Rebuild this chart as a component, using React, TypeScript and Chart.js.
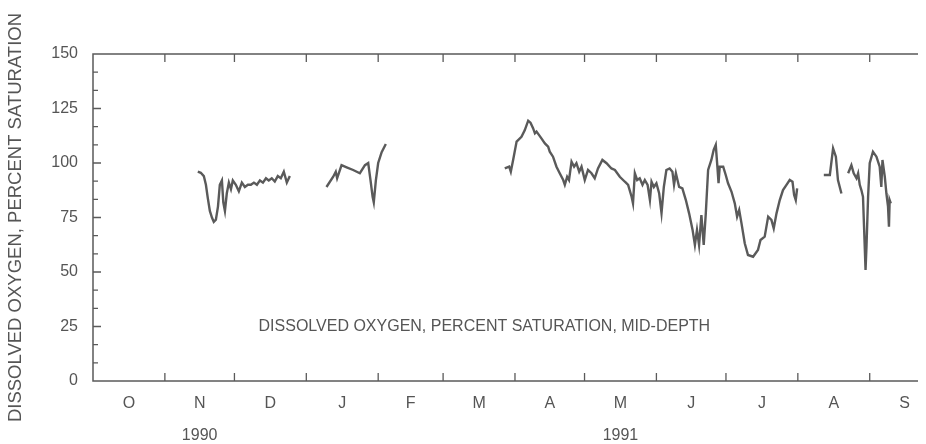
import { useEffect, useRef } from 'react';
import { Chart, registerables } from 'chart.js';

Chart.register(...registerables);

// Days since 1 Oct 1990 (water year 1991); null value = data gap
const days: number[] = [
  // Nov-Dec 1990
  45.2, 46.5, 47.8, 48.7, 49.5, 50.4, 51.3, 52.1, 53, 53.9, 54.7, 55.6, 56.2, 56.9, 57.7, 58.6, 59.5, 60.3,
  61.6, 62.9, 64.2, 65.5, 66.8, 68.1, 69.4, 70.7, 72, 73.3, 74.6, 75.8, 77.1, 78.4, 79.7, 81, 82.3, 83.6, 84.9,
  88,
  // Jan 1991
  100.7, 103.6, 104.7, 105.3, 107.2, 109.4, 112.2, 115.1, 117.3, 118.7, 119.7, 120.6, 121.1, 122.0, 123.0,
  124.5, 126.3,
  150,
  // late Mar - early Aug 1991
  177.6, 179.5, 180.2, 181.2, 182.7, 184.8, 186.2, 187.7, 188.7, 189.8, 190.6, 191.3, 192.4, 193.4, 194.9,
  196.3, 197.0, 198.4, 199.9, 201.3, 202.8, 203.5, 204.5, 205.3, 206.4, 207.5, 208.5, 209.7, 210.7, 212.1,
  213.5, 215.0, 216.4, 217.8, 219.7, 221.5, 223.6, 225.1, 227.2, 229.4, 230.8, 232.3, 232.9, 233.7, 234.7,
  235.8, 237.0, 238.0, 239.2, 240.2, 240.9, 241.9, 243.0, 244.2, 245.2, 246.2, 247.3, 248.7, 249.9, 250.6,
  251.4, 252.8, 254.2, 255.7, 257.1, 258.6, 259.6, 260.5, 261.4, 262.4, 263.4, 264.3, 265.3, 266.7, 267.7,
  268.6, 269.3, 269.8, 270.3, 271.8, 272.9, 273.9, 275.4, 276.8, 277.8, 278.7, 279.7, 281.1, 282.5, 284.7,
  286.8, 287.9, 289.7, 291.2, 292.6, 293.6, 294.8, 296.2, 297.6, 299.1, 300.5, 301.7, 302.4, 303.1, 303.7,
  310,
  // mid Aug 1991
  315.2, 317.8, 319.2, 320.4, 321.3, 322.8,
  324,
  // late Aug - Sep 1991
  325.7, 327.1, 328.1, 329.3, 330.0, 330.7, 331.4, 332.1, 332.6, 333.2, 333.6, 334.3, 335.0, 336.4, 337.9,
  339.3, 340.0, 340.5, 341.5, 342.2, 342.9, 343.3, 343.6, 344.1,
];

const doSaturation: (number | null)[] = [
  96, 95.5, 94, 90, 84, 78, 75, 73, 74, 80, 90, 92, 82, 78, 86, 91, 88, 92,
  90, 87, 91, 89, 90, 90, 91, 90, 92, 91, 93, 92, 93, 91.5, 94, 93, 96, 91, 94,
  null,
  89, 93.7, 96, 93, 99, 98, 96.8, 95.3, 99, 100, 92, 84.5, 82, 92, 100,
  105, 108.7,
  null,
  97.5, 98.3, 96, 101.4, 109.8, 112, 115, 119.4, 118.5, 116, 113.6, 114.4, 112.8, 111.3, 109,
  107.5, 105.2, 102.9, 98.3, 95.3, 92.2, 90, 93.7, 92.2, 100.6, 98.3, 99.9, 96, 98.3, 92.2,
  96.8, 95.3, 93, 97.5, 101.4, 99.9, 97.5, 96.8, 93.7, 91.4, 90, 84.5, 81.5, 95.3, 92.2,
  93, 90, 92.2, 90, 83, 91.4, 89, 90.7, 86, 77, 89, 96.8, 97.5, 96, 90,
  95.3, 89, 88.4, 83, 76.9, 69.3, 62.4, 69.3, 62.4, 76.1, 62.4, 76.9, 96.8, 101.4, 106,
  108.3, 98.3, 90.7, 98.3, 98.3, 94.5, 90.7, 86.8, 81.5, 75.4, 78.4, 72.3, 63.2, 57.8, 57,
  60.1, 64.7, 66.2, 75.4, 73.9, 70, 76.9, 83, 87.6, 90, 92.2, 91.4, 85.3, 83, 88.4,
  null,
  94.5, 94.5, 106.7, 102.9, 92.2, 86,
  null,
  95.3, 99, 95.3, 93, 95.3, 90, 87.6, 84.5, 69.3, 50.9, 61.6, 84.5, 99.9, 105.2, 102.9,
  98.3, 89, 101.4, 93.7, 86, 80, 70.8, 83, 81.5,
];

const monthStarts: number[] = [0, 31, 61, 92, 123, 151, 182, 212, 243, 273, 304, 335, 365];
const monthLabels: string[] = ['O', 'N', 'D', 'J', 'F', 'M', 'A', 'M', 'J', 'J', 'A', 'S'];
const yearLabels: string[] = ['', '1990', '', '', '', '', '', '1991', '', '', '', ''];
const yMajorTicks: number[] = [0, 25, 50, 75, 100, 125, 150];
const yMinorStep = 25 / 3;

const yTitle = 'DISSOLVED OXYGEN, PERCENT SATURATION';
const annotationText = 'DISSOLVED OXYGEN, PERCENT SATURATION, MID-DEPTH';
const annotationX = 168.8;
const annotationY = 25;

const INK = '#555555';
const LINE = '#5a5a5a';
const FONT = "'Liberation Sans', Arial, Helvetica, sans-serif";

const monthMids = monthStarts.slice(0, -1).map((d, i) => (d + monthStarts[i + 1]) / 2);

const framePlugin = {
  id: 'frame',
  afterDatasetsDraw(chart: any) {
    const { ctx, chartArea } = chart;
    const { left, right, top, bottom } = chartArea;
    const xs = chart.scales.x;
    const ys = chart.scales.y;
    ctx.save();
    ctx.strokeStyle = '#5a5a5a';
    ctx.lineWidth = 1.5;
    ctx.strokeRect(left, top, right - left, bottom - top);
    ctx.lineWidth = 1.3;
    ctx.beginPath();
    monthStarts.forEach((d) => {
      const px = xs.getPixelForValue(d);
      if (px <= left + 1 || px >= right - 1) return;
      ctx.moveTo(px, bottom);
      ctx.lineTo(px, bottom - 8);
      ctx.moveTo(px, top);
      ctx.lineTo(px, top + 8);
    });
    for (let i = 1; i < 18; i++) {
      const py = ys.getPixelForValue(i * yMinorStep);
      const len = i % 3 === 0 ? 8 : 5;
      ctx.moveTo(left, py);
      ctx.lineTo(left + len, py);
      ctx.moveTo(right, py);
      ctx.lineTo(right - len, py);
    }
    ctx.stroke();
    ctx.fillStyle = INK;
    ctx.font = `16px ${FONT}`;
    ctx.textAlign = 'center';
    ctx.textBaseline = 'middle';
    ctx.fillText(annotationText, xs.getPixelForValue(annotationX), ys.getPixelForValue(annotationY));
    ctx.restore();
  },
};

export default function App() {
  const ref = useRef<HTMLCanvasElement | null>(null);

  useEffect(() => {
    document.body.style.overflow = 'hidden';
    const canvas = ref.current;
    if (!canvas) return;
    const points = days.map((d, i) => ({ x: d, y: doSaturation[i] }));
    const chart = new Chart(canvas, {
      type: 'line',
      data: {
        datasets: [
          {
            data: points as any,
            borderColor: LINE,
            borderWidth: 2.4,
            pointRadius: 0,
            tension: 0,
            spanGaps: false,
            fill: false,
          },
        ],
      },
      options: {
        animation: false,
        responsive: false,
        maintainAspectRatio: false,
        layout: { padding: { top: 46, right: 8, bottom: 0, left: 0 } },
        plugins: { legend: { display: false }, tooltip: { enabled: false } },
        scales: {
          x: {
            type: 'linear',
            min: 0,
            max: 361,
            afterBuildTicks: (scale: any) => {
              scale.ticks = monthMids.map((v) => ({ value: v }));
            },
            afterFit: (scale: any) => {
              scale.height = 63;
            },
            grid: { display: false, drawTicks: false },
            border: { display: false },
            ticks: {
              autoSkip: false,
              maxRotation: 0,
              minRotation: 0,
              padding: 15,
              color: INK,
              font: { size: 16, family: FONT, lineHeight: 1 },
              callback: (_v: any, i: number) =>
                yearLabels[i] ? [monthLabels[i], '', yearLabels[i]] : monthLabels[i],
            },
          },
          y: {
            min: 0,
            max: 150,
            afterBuildTicks: (scale: any) => {
              scale.ticks = yMajorTicks.map((v) => ({ value: v }));
            },
            afterFit: (scale: any) => {
              scale.width = 85;
            },
            grid: { display: false, drawTicks: false },
            border: { display: false },
            ticks: {
              padding: 15,
              color: INK,
              font: { size: 16, family: FONT },
            },
            title: {
              display: true,
              text: yTitle,
              color: INK,
              padding: { top: 0, bottom: 0 },
              font: { size: 18.5, family: FONT, lineHeight: 0.85 },
            },
          },
        },
      },
      plugins: [framePlugin],
    });
    return () => chart.destroy();
  }, []);

  return (
    <div style={{ width: 918, height: 436, overflow: 'hidden' }}>
      <canvas ref={ref} width={930} height={436} style={{ display: 'block', width: 930, height: 436 }} />
    </div>
  );
}
